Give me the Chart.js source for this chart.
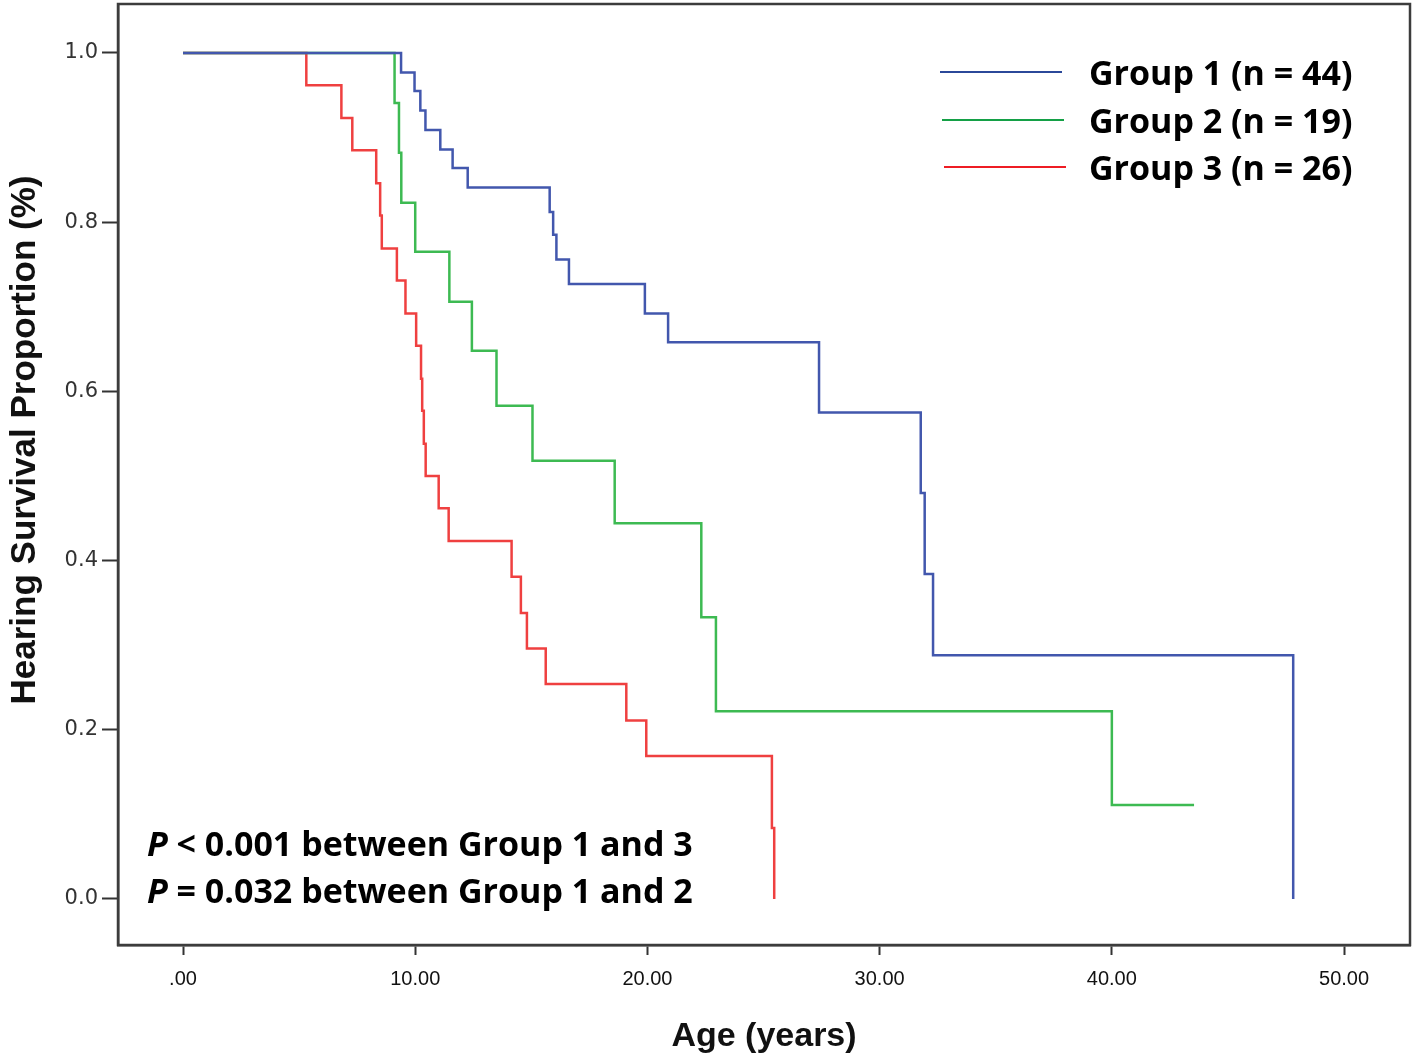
<!DOCTYPE html>
<html>
<head>
<meta charset="utf-8">
<script src="https://cdn.jsdelivr.net/npm/chart.js@4.4.0/dist/chart.umd.min.js"></script>
<style>
  html, body { margin: 0; padding: 0; background: #fff; }
</style>
</head>
<body>
<canvas id="kmChart" width="1416" height="1059"></canvas>
<script>
// Kaplan-Meier steps: time (years) and survival after the event
const group1Times = [0, 9.39, 9.97, 10.22, 10.44, 11.08, 11.61, 12.26, 15.79, 15.94, 16.08, 16.62, 19.89, 20.89, 27.39, 31.77, 31.94, 32.30, 47.81];
const group1Surv  = [1.0, 0.977, 0.955, 0.932, 0.909, 0.886, 0.864, 0.841, 0.812, 0.785, 0.756, 0.727, 0.692, 0.658, 0.575, 0.480, 0.384, 0.288, 0.0];

const group2Times = [0, 9.11, 9.30, 9.40, 10.00, 11.47, 12.44, 13.50, 15.05, 18.59, 22.32, 22.95, 40.00, 43.54];
const group2Surv  = [1.0, 0.941, 0.882, 0.823, 0.765, 0.706, 0.648, 0.583, 0.518, 0.444, 0.333, 0.222, 0.111, 0.111];

const group3Times = [0, 5.31, 6.82, 7.29, 8.32, 8.49, 8.56, 9.21, 9.58, 10.04, 10.25, 10.30, 10.37, 10.45, 11.01, 11.44, 14.15, 14.55, 14.81, 15.62, 19.09, 19.95, 25.36, 25.46];
const group3Surv  = [1.0, 0.962, 0.923, 0.885, 0.846, 0.808, 0.769, 0.731, 0.692, 0.654, 0.615, 0.577, 0.538, 0.500, 0.462, 0.423, 0.381, 0.338, 0.296, 0.254, 0.211, 0.169, 0.084, 0.0];

const groupLabels = ['Group 1 (n = 44)', 'Group 2 (n = 19)', 'Group 3 (n = 26)'];
const xTickValues = [0, 10, 20, 30, 40, 50];
const yTickValues = [0, 0.2, 0.4, 0.6, 0.8, 1.0];
const yAxisTitle = 'Hearing Survival Proportion (%)';
const pValueLines = [
    ['P', ' < 0.001 between Group 1 and 3'],
    ['P', ' = 0.032 between Group 1 and 2']
];

const lineColors = ['#4257ad', '#3dba52', '#ef4040'];
const legendColors = ['#2b4899', '#14a046', '#ee1c24'];

function toPoints(times, surv) {
    return times.map((t, i) => ({ x: t, y: surv[i] }));
}

const textFont = '"Open Sans", "DejaVu Sans", sans-serif';

// Frame around the plot, y title, legend and p-value notes
const extrasPlugin = {
    id: 'extras',
    afterDraw(chart) {
        const ctx = chart.ctx;
        const area = chart.chartArea;
        ctx.save();
        ctx.strokeStyle = '#3c3c3c';
        ctx.lineWidth = 2.5;
        ctx.strokeRect(area.left, area.top, area.right - area.left, area.bottom - area.top);

        // y axis title (sits a bit above the plot centre in the original)
        ctx.save();
        ctx.translate(25, 440);
        ctx.rotate(-Math.PI / 2);
        ctx.font = 'bold 35px "Liberation Sans", Arial, sans-serif';
        ctx.fillStyle = '#111';
        ctx.textAlign = 'center';
        ctx.textBaseline = 'middle';
        ctx.fillText(yAxisTitle, 0, 0);
        ctx.restore();

        // legend
        const legendY = [72, 120, 167];
        ctx.font = 'bold 34px ' + textFont;
        ctx.textBaseline = 'middle';
        ctx.fillStyle = '#000';
        chart.data.datasets.forEach((ds, i) => {
            ctx.strokeStyle = legendColors[i];
            ctx.lineWidth = 2;
            ctx.beginPath();
            ctx.moveTo(940 + i * 2, legendY[i]);
            ctx.lineTo(1062 + i * 2, legendY[i]);
            ctx.stroke();
            ctx.fillText(ds.label, 1089, legendY[i] + 3);
        });

        // p-values
        const pY = [846, 893];
        pValueLines.forEach((parts, i) => {
            let x = 147;
            ctx.font = 'italic bold 34px ' + textFont;
            ctx.fillText(parts[0], x, pY[i]);
            x += ctx.measureText(parts[0]).width;
            ctx.font = 'bold 34px ' + textFont;
            ctx.fillText(parts[1], x, pY[i]);
        });
        ctx.restore();
    }
};

const ctx = document.getElementById('kmChart').getContext('2d');
const kmChart = new Chart(ctx, {
    type: 'line',
    data: {
        datasets: [
            { label: groupLabels[0], data: toPoints(group1Times, group1Surv), borderColor: lineColors[0] },
            { label: groupLabels[1], data: toPoints(group2Times, group2Surv), borderColor: lineColors[1] },
            { label: groupLabels[2], data: toPoints(group3Times, group3Surv), borderColor: lineColors[2] }
        ]
    },
    options: {
        responsive: false,
        animation: false,
        layout: { padding: { top: 4, right: 6, left: 0, bottom: 0 } },
        elements: {
            line: { stepped: true, borderWidth: 2.5, fill: false },
            point: { radius: 0 }
        },
        plugins: {
            legend: { display: false },
            tooltip: { enabled: false }
        },
        scales: {
            x: {
                type: 'linear',
                min: -2.8,
                max: 52.84,
                afterFit: scale => { scale.height = 114; scale.paddingLeft = 0; scale.paddingRight = 0; },
                afterBuildTicks: scale => { scale.ticks = xTickValues.map(v => ({ value: v })); },
                ticks: {
                    callback: v => v === 0 ? '.00' : v.toFixed(2),
                    font: { family: '"Liberation Sans", Arial, sans-serif', size: 20 },
                    color: '#111',
                    padding: 12
                },
                grid: { drawOnChartArea: false, drawTicks: true, tickLength: 10, tickColor: '#333', tickWidth: 2 },
                border: { display: true, color: '#3c3c3c', width: 2.5 },
                title: {
                    display: true,
                    text: 'Age (years)',
                    font: { family: '"Liberation Sans", Arial, sans-serif', size: 34, weight: 'bold' },
                    color: '#111',
                    padding: { top: 0, bottom: 2 }
                }
            },
            y: {
                type: 'linear',
                min: -0.0544,
                max: 1.0579,
                afterFit: scale => { scale.width = 118; scale.paddingTop = 0; scale.paddingBottom = 0; },
                afterBuildTicks: scale => { scale.ticks = yTickValues.map(v => ({ value: v })); },
                ticks: {
                    callback: v => v.toFixed(1),
                    font: { family: '"DejaVu Sans", sans-serif', size: 21 },
                    color: '#333',
                    padding: 4
                },
                grid: { drawOnChartArea: false, drawTicks: true, tickLength: 16, tickColor: '#333', tickWidth: 2 },
                border: { display: true, color: '#3c3c3c', width: 2.5 },
                title: { display: false }
            }
        }
    },
    plugins: [extrasPlugin]
});
</script>
</body>
</html>
